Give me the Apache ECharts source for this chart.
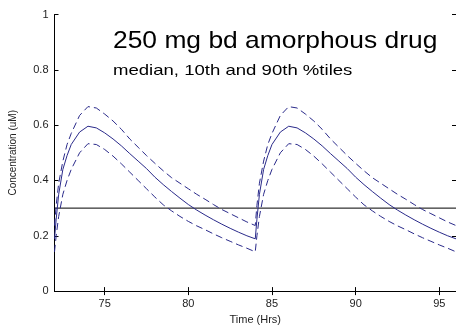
<!DOCTYPE html>
<html><head><meta charset="utf-8">
<script src="https://cdn.jsdelivr.net/npm/echarts@6/dist/echarts.min.js"></script>
<style>html,body{margin:0;padding:0;background:#fff}#c{width:456px;height:330px}</style>
</head><body><div id="c"></div>
<script>
const timeHrs = [72,72.1,72.25,72.5,72.75,73,73.5,74,74.5,75,75.5,76,76.5,77,77.5,78,78.5,79,79.5,80,80.5,81,81.5,82,82.5,83,83.5,
                 84,84.1,84.25,84.5,84.75,85,85.5,86,86.5,87,87.5,88,88.5,89,89.5,90,90.5,91,91.5,92,92.5,93,93.5,94,94.5,95,95.5,96];
const median = [0.189,0.26,0.35,0.44,0.49,0.53,0.575,0.596,0.59,0.572,0.55,0.525,0.497,0.47,0.443,0.412,0.385,0.36,0.336,0.313,0.293,0.275,0.258,0.242,0.227,0.213,0.2,
                0.189,0.26,0.35,0.44,0.49,0.53,0.575,0.596,0.59,0.572,0.55,0.525,0.497,0.47,0.443,0.412,0.385,0.36,0.336,0.313,0.293,0.275,0.258,0.242,0.227,0.213,0.2,0.189];
const p90 = [0.237,0.31,0.39,0.47,0.53,0.57,0.635,0.667,0.662,0.64,0.615,0.585,0.55,0.52,0.49,0.462,0.435,0.41,0.39,0.37,0.35,0.332,0.313,0.295,0.28,0.265,0.25,
             0.237,0.31,0.39,0.47,0.53,0.57,0.635,0.667,0.662,0.64,0.615,0.585,0.55,0.52,0.49,0.462,0.435,0.41,0.39,0.37,0.35,0.332,0.313,0.295,0.28,0.265,0.25,0.237];
const p10 = [0.142,0.2,0.27,0.35,0.40,0.44,0.50,0.533,0.53,0.512,0.488,0.46,0.43,0.40,0.37,0.34,0.312,0.29,0.27,0.252,0.236,0.222,0.207,0.193,0.18,0.167,0.155,
             0.142,0.2,0.27,0.35,0.40,0.44,0.50,0.533,0.53,0.512,0.488,0.46,0.43,0.40,0.37,0.34,0.312,0.29,0.27,0.252,0.236,0.222,0.207,0.193,0.18,0.167,0.155,0.142];
const threshold = 0.3;
const xTickValues = [75,80,85,90,95];
const titleText = '250 mg bd amorphous drug';
const subtitleText = 'median, 10th and 90th %tiles';

const pair = (xs, ys) => xs.map((x, i) => [x, ys[i]]);
const FONT = 'Liberation Sans, Arial, sans-serif';
const lineCol = '#2a2a8a';
const axisCommon = {
  axisLine: {show: true, lineStyle: {color: '#000', width: 1}},
  axisTick: {show: true, inside: true, length: 4, lineStyle: {color: '#000'}},
  splitLine: {show: false}
};
const xTick = {show: true, inside: true, length: 4, customValues: xTickValues, lineStyle: {color: '#000'}};
const chart = echarts.init(document.getElementById('c'), null, {renderer: 'canvas'});
chart.setOption({
  animation: false,
  backgroundColor: '#fff',
  grid: {left: 54.5, top: 14.5, right: -3, bottom: 35.5, containLabel: false},
  xAxis: [
    Object.assign({type: 'value', min: 72, max: 96, position: 'bottom',
      name: 'Time (Hrs)', nameLocation: 'middle', nameGap: 22,
      nameTextStyle: {fontFamily: FONT, fontSize: 11, color: '#222'},
      axisLabel: {customValues: xTickValues, fontFamily: FONT, fontSize: 11, color: '#222', margin: 7}
    }, axisCommon, {axisTick: xTick}),
    Object.assign({type: 'value', min: 72, max: 96, position: 'top', axisLabel: {show: false}}, axisCommon, {axisTick: xTick})
  ],
  yAxis: [
    Object.assign({type: 'value', min: 0, max: 1, interval: 0.2, position: 'left',
      name: 'Concentration (uM)', nameLocation: 'middle', nameGap: 36, nameRotate: 90,
      nameTextStyle: {fontFamily: FONT, fontSize: 10, color: '#222'},
      axisLabel: {fontFamily: FONT, fontSize: 11, color: '#222', margin: 6}
    }, axisCommon),
    Object.assign({type: 'value', min: 0, max: 1, interval: 0.2, position: 'right', axisLabel: {show: false}}, axisCommon)
  ],
  series: [
    {type: 'line', data: [[72, threshold], [96, threshold]], symbol: 'none', lineStyle: {color: '#000', width: 1}, z: 1},
    {type: 'line', data: pair(timeHrs, p90), symbol: 'none', lineStyle: {color: lineCol, width: 1, type: [7, 4]}, z: 3},
    {type: 'line', data: pair(timeHrs, median), symbol: 'none', lineStyle: {color: lineCol, width: 1}, z: 3},
    {type: 'line', data: pair(timeHrs, p10), symbol: 'none', lineStyle: {color: lineCol, width: 1, type: [7, 4]}, z: 3}
  ],
  graphic: [
    {type: 'text', x: 113, y: 29, scaleX: 1.1, style: {text: titleText, font: '24px ' + FONT, fill: '#000'}},
    {type: 'text', x: 113, y: 63, scaleX: 1.28, style: {text: subtitleText, font: '14.5px ' + FONT, fill: '#000'}}
  ]
});
</script></body></html>
